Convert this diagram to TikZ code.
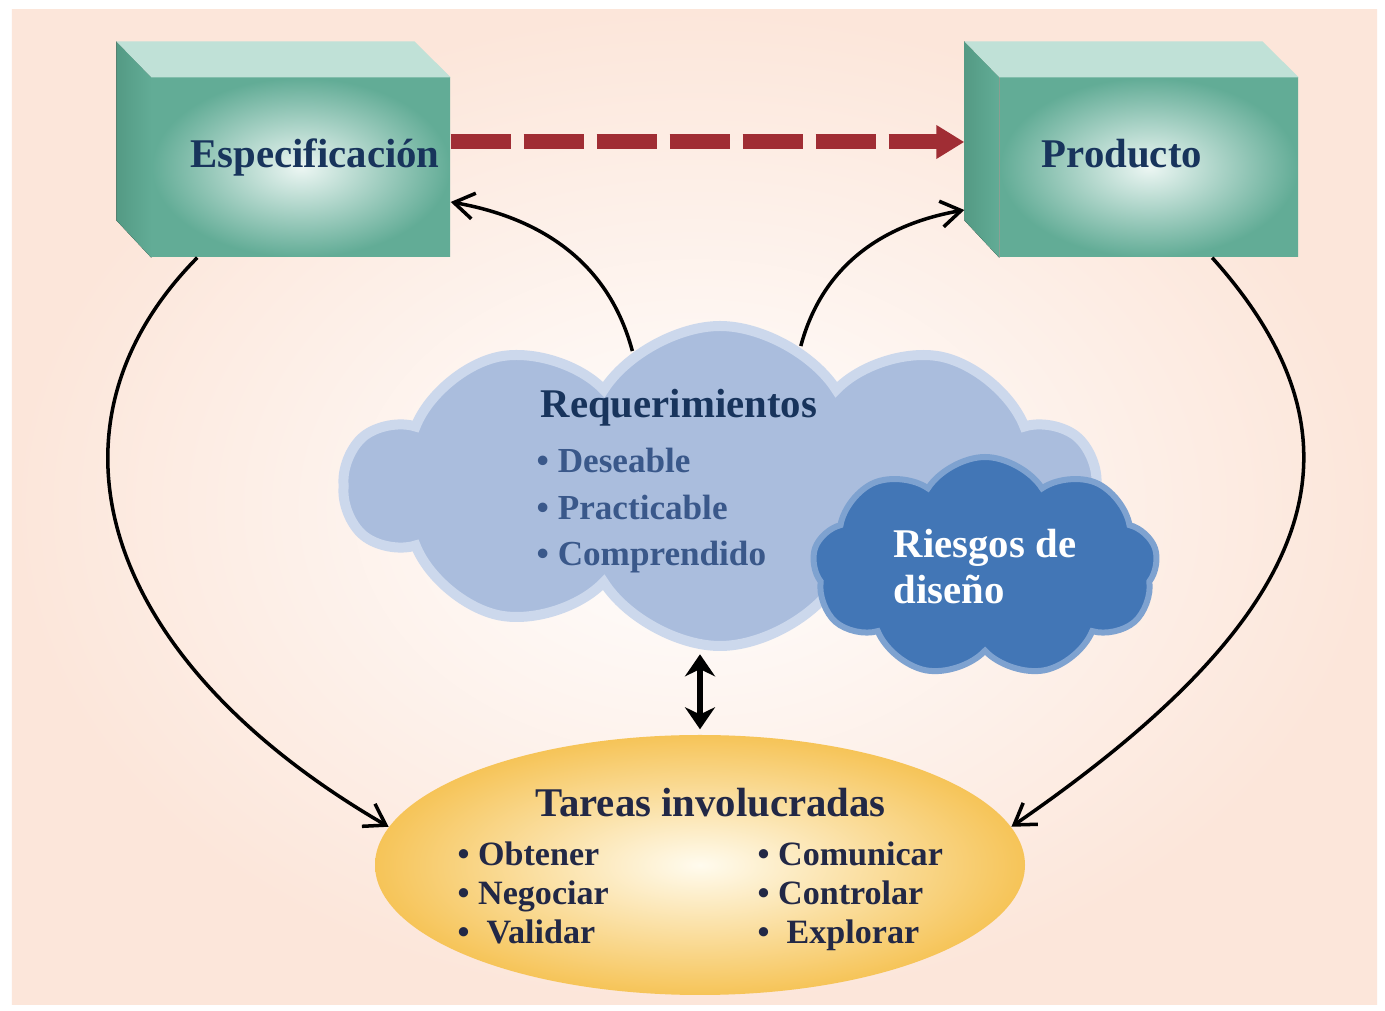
\documentclass[tikz,border=0pt]{standalone}
\usepackage{fontspec}
\setmainfont{Liberation Serif}
\usetikzlibrary{arrows.meta,shapes.geometric,shapes.symbols}

\definecolor{peach}{RGB}{252,230,218}
\definecolor{cubeteal}{RGB}{98,172,150}
\definecolor{cubedark}{RGB}{84,154,132}
\definecolor{cubelight}{RGB}{236,246,243}
\definecolor{cubetop}{RGB}{192,225,215}
\definecolor{navytext}{RGB}{24,52,92}
\definecolor{arrowred}{RGB}{160,45,52}
\definecolor{cloudlight}{RGB}{170,189,221}
\definecolor{cloudhalo}{RGB}{204,216,236}
\definecolor{clouddark}{RGB}{66,118,182}
\definecolor{cloudrim}{RGB}{126,162,208}
\definecolor{itemblue}{RGB}{58,88,138}
\definecolor{taskgold}{RGB}{246,196,88}
\definecolor{taskcream}{RGB}{255,251,238}
\definecolor{tasktext}{RGB}{34,40,70}

\tikzset{
  cubefront/.style={minimum width=2.98cm, minimum height=1.79cm, inner sep=0pt,
    text height=0.3cm, text depth=0.3cm,
    inner color=cubelight, outer color=cubeteal, text=navytext,
    font=\fontsize{11.6}{14}\selectfont\bfseries},
  cubeside/.style={left color=cubedark, right color=cubeteal},
  cubetopface/.style={fill=cubetop},
  reqcloud/.style={cloud, cloud puffs=10, cloud puff arc=115, cloud ignores aspect,
    fill=cloudlight, draw=cloudhalo, line width=0.1cm},
  riskcloud/.style={cloud, cloud puffs=9, cloud puff arc=115, cloud ignores aspect,
    fill=clouddark, draw=cloudrim, line width=0.06cm, text=white, align=left,
    font=\fontsize{11.6}{13.1}\selectfont\bfseries},
  title/.style={anchor=base west, inner sep=0pt, font=\fontsize{11.6}{14}\selectfont\bfseries},
  reqitem/.style={anchor=base west, inner sep=0pt, text=itemblue,
    font=\fontsize{10}{12}\selectfont\bfseries},
  taskitem/.style={anchor=base west, inner sep=0pt, text=tasktext,
    font=\fontsize{9.7}{12}\selectfont\bfseries},
  link/.style={-{Straight Barb[length=0.2cm,width=0.26cm]}, line width=1pt},
  both/.style={{Stealth[length=0.22cm,width=0.3cm]}-{Stealth[length=0.22cm,width=0.3cm]}, line width=1.5pt},
  redarrow/.style={-{Triangle[length=0.28cm,width=0.32cm]}, arrowred, line width=0.15cm,
    dash pattern=on 0.6cm off 0.13cm}
}

\begin{document}
\begin{tikzpicture}
    \useasboundingbox (0,0) rectangle (13.85,-10.11);
    \fill[white] (0,0) rectangle (13.85,-10.11);
    \shade[inner color=white, outer color=peach] (0.12,-0.10) rectangle (13.77,-10.05);

    % boxes
    \node[cubefront] (esp) at (3.01,-1.675) {\hspace*{0.28cm}Especificación};
    \fill[cubeside] (esp.north west) -- ++(-0.35,0.36) -- ++(0,-1.79) -- (esp.south west) -- cycle;
    \fill[cubetopface] (esp.north west) -- ++(-0.35,0.36) -- ++(2.98,0) -- (esp.north east) -- cycle;

    \node[cubefront] (prod) at (11.49,-1.675) {Producto\hspace*{0.54cm}};
    \fill[cubeside] (prod.north west) -- ++(-0.35,0.36) -- ++(0,-1.79) -- (prod.south west) -- cycle;
    \fill[cubetopface] (prod.north west) -- ++(-0.35,0.36) -- ++(2.98,0) -- (prod.north east) -- cycle;

    % clouds
    \node[reqcloud, minimum width=7.5cm, minimum height=3.2cm] (req) at (7.20,-4.86) {};
    \node[riskcloud, minimum width=3.45cm, minimum height=2.2cm] (risk) at (9.85,-5.67) {Riesgos de\\diseño};

    \node[title, text=navytext] (reqtitle) at (5.40,-4.18) {Requerimientos};
    \foreach \word [count=\i] in {Deseable,Practicable,Comprendido}
      \node[reqitem] (reqitem\i) at (5.36,{-4.73-0.465*(\i-1)}) {\textbullet\ \word};

    % tasks
    \node[ellipse, minimum width=6.5cm, minimum height=2.6cm, inner color=taskcream,
      outer color=taskgold] (tasks) at (7.00,-8.65) {};
    \node[title, text=tasktext] (taskstitle) at (5.35,-8.17) {Tareas involucradas};
    \foreach \word [count=\i] in {Obtener,Negociar,{\ Validar}}
      \node[taskitem] (taskl\i) at (4.57,{-8.655-0.39*(\i-1)}) {\textbullet\ \word};
    \foreach \word [count=\i] in {Comunicar,Controlar,{\ Explorar}}
      \node[taskitem] (taskr\i) at (7.57,{-8.655-0.39*(\i-1)}) {\textbullet\ \word};

    % connectors
    \draw[redarrow] ([yshift=0.255cm]esp.east) -- ([xshift=-0.35cm,yshift=0.255cm]prod.west);
    \draw[link] (req.123) to[out=105,in=-10] ([yshift=-0.345cm]esp.east);
    \draw[link] (req.60) to[out=75,in=190] ([xshift=-0.35cm,yshift=-0.425cm]prod.west);
    \draw[link] (esp.221) .. controls (0.3,-4.27) and (1.0,-6.59) .. (tasks.173);
    \draw[link] (prod.305) .. controls (13.85,-4.5) and (13.1,-6.21) .. (tasks.7);
    \draw[both] ([yshift=0.8cm]tasks.north) -- ([yshift=0.05cm]tasks.north);
\end{tikzpicture}
\end{document}
